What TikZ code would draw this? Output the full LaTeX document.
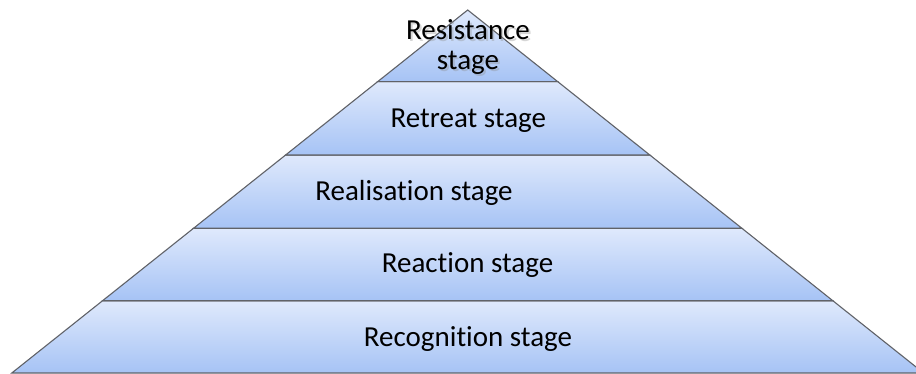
\documentclass[tikz,border=0pt]{standalone}
\usepackage{fontspec}
\setmainfont{Carlito}[Ligatures=NoCommon]
\definecolor{tiertop}{RGB}{223,233,252}
\definecolor{tierbot}{RGB}{166,195,245}
\definecolor{tierline}{RGB}{96,98,104}
\tikzset{
  tier/.style={draw=tierline, line width=1.1pt, line join=miter, top color=tiertop, bottom color=tierbot},
  label/.style={font=\fontsize{29}{31}\selectfont, anchor=base, inner sep=0pt, text=black},
  shadowtext/.style={label, text=black!45, opacity=0.35}
}
\begin{document}
\begin{tikzpicture}[x=1pt,y=-1pt]
\useasboundingbox (0,0) rectangle (916,374);
\fill[white] (0,0) rectangle (916,374);
% tiers from bottom to top
\path[tier] (11.8,373) -- (923.6,373) -- (832.8,300.7) -- (102.6,300.7) -- cycle;
\path[tier] (102.6,300.7) -- (832.8,300.7) -- (741.9,228.3) -- (193.5,228.3) -- cycle;
\path[tier] (193.5,228.3) -- (741.9,228.3) -- (649.8,155) -- (285.6,155) -- cycle;
\path[tier] (285.6,155) -- (649.8,155) -- (557.8,81.7) -- (377.6,81.7) -- cycle;
\path[tier] (377.6,81.7) -- (557.8,81.7) -- (467.7,10) -- cycle;
% labels
\node[label] (recognition) at (468,346) {Recognition stage};
\node[label] (reaction) at (467.5,272.7) {Reaction stage};
\node[label] (realisation) at (414,200.7) {Realisation stage};
\node[label] (retreat) at (468.3,127.3) {Retreat stage};
% soft shadow of top label
\node[shadowtext] (resistshadow) at (470,41.3) {Resistance};
\node[shadowtext] (stageshadow) at (470,72) {stage};
\node[label] (resistance) at (468,39.3) {Resistance};
\node[label] (resistance2) at (468,70) {stage};
\end{tikzpicture}
\end{document}
